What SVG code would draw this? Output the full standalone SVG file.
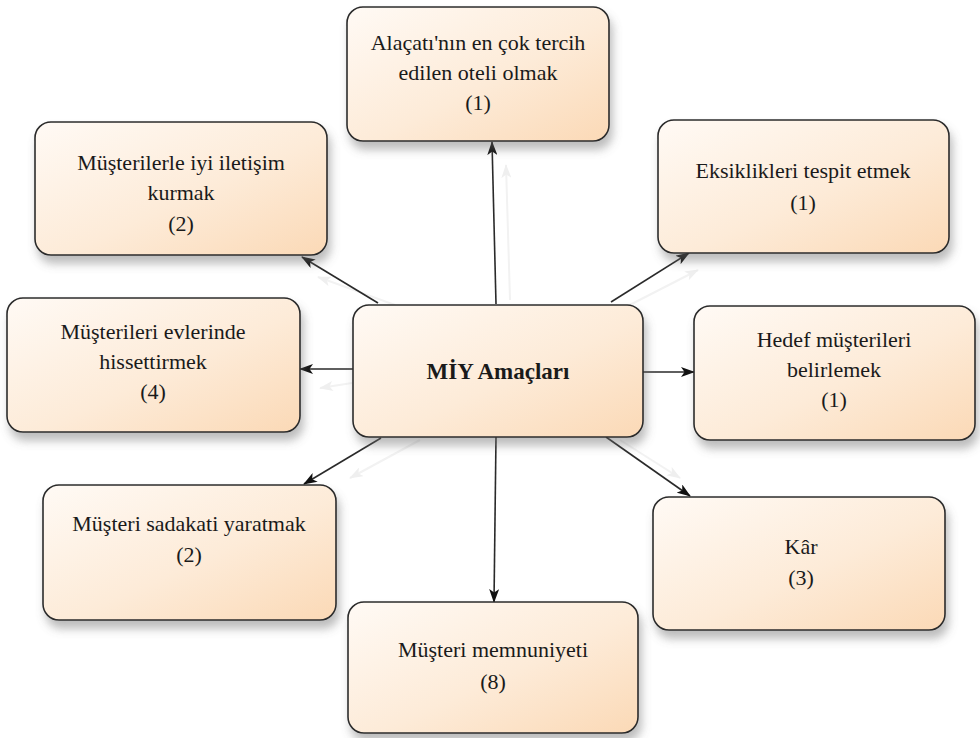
<svg xmlns="http://www.w3.org/2000/svg" width="980" height="738" viewBox="0 0 980 738">
  <defs>
    <linearGradient id="boxFill" x1="0" y1="0" x2="1" y2="1">
      <stop offset="0" stop-color="#fffaf5"/>
      <stop offset="0.55" stop-color="#fdebd8"/>
      <stop offset="1" stop-color="#fbd9b6"/>
    </linearGradient>
    <filter id="shadow" x="-10%" y="-10%" width="125%" height="135%">
      <feDropShadow dx="3" dy="8" stdDeviation="5" flood-color="#6b6b6b" flood-opacity="0.45"/>
    </filter>
    <marker id="arrow" viewBox="0 0 14 10" refX="13" refY="5" markerWidth="14" markerHeight="10" markerUnits="userSpaceOnUse" orient="auto">
      <path d="M0,0 L14,5 L0,10 L3.5,5 z" fill="#111"/>
    </marker>
    <marker id="ghostArrow" viewBox="0 0 14 10" refX="13" refY="5" markerWidth="14" markerHeight="10" markerUnits="userSpaceOnUse" orient="auto">
      <path d="M0,0 L14,5 L0,10 L3.5,5 z" fill="#efefef"/>
    </marker>
  </defs>
  <style>
    .box { fill: url(#boxFill); stroke: #2b2b2b; stroke-width: 1.6; filter: url(#shadow); }
    .label { font-family: "Liberation Serif", "Times New Roman", serif; font-size: 22px; fill: #1a1a1a; text-anchor: middle; }
    .title { font-weight: bold; font-size: 23px; }
    .link { stroke: #2a2a2a; stroke-width: 1.6; fill: none; marker-end: url(#arrow); }
    .ghost { stroke: #f2f2f2; stroke-width: 2; fill: none; marker-end: url(#ghostArrow); }
  </style>

  <rect width="980" height="738" fill="#ffffff"/>

  <!-- faint reflections of the connectors -->
  <g id="connector-reflections">
    <line class="ghost" x1="510" y1="300" x2="506" y2="165"/>
    <line class="ghost" x1="395" y1="305" x2="318" y2="277"/>
    <line class="ghost" x1="620" y1="310" x2="698" y2="270"/>
    <line class="ghost" x1="352" y1="383" x2="320" y2="388"/>
    <line class="ghost" x1="420" y1="440" x2="350" y2="478"/>
    <line class="ghost" x1="620" y1="440" x2="680" y2="478"/>
  </g>

  <!-- connectors from the central node -->
  <g id="connectors">
    <line class="link" x1="496" y1="304" x2="492" y2="142"/>
    <line class="link" x1="378" y1="303" x2="302" y2="257"/>
    <line class="link" x1="611" y1="302" x2="689" y2="253"/>
    <line class="link" x1="353" y1="369" x2="300" y2="369"/>
    <line class="link" x1="643" y1="372" x2="694" y2="372"/>
    <line class="link" x1="381" y1="438" x2="304" y2="484"/>
    <line class="link" x1="606" y1="437" x2="690" y2="496"/>
    <line class="link" x1="496" y1="437" x2="494" y2="602"/>
  </g>

  <g id="node-center">
    <rect class="box" x="353" y="305" width="290" height="132" rx="16"/>
    <text class="label title" x="498" y="379">MİY Amaçları</text>
  </g>

  <g id="node-alacati">
    <rect class="box" x="347" y="7" width="262" height="134" rx="16"/>
    <text class="label" x="478" y="50">Alaçatı'nın en çok tercih</text>
    <text class="label" x="478" y="80">edilen oteli olmak</text>
    <text class="label" x="478" y="110">(1)</text>
  </g>

  <g id="node-iletisim">
    <rect class="box" x="35" y="122" width="292" height="133" rx="16"/>
    <text class="label" x="181" y="170">Müşterilerle iyi iletişim</text>
    <text class="label" x="181" y="200">kurmak</text>
    <text class="label" x="181" y="231">(2)</text>
  </g>

  <g id="node-eksiklik">
    <rect class="box" x="658" y="120" width="291" height="133" rx="16"/>
    <text class="label" x="803" y="178">Eksiklikleri tespit etmek</text>
    <text class="label" x="803" y="210">(1)</text>
  </g>

  <g id="node-evlerinde">
    <rect class="box" x="7" y="298" width="293" height="134" rx="16"/>
    <text class="label" x="153" y="339">Müşterileri evlerinde</text>
    <text class="label" x="153" y="369">hissettirmek</text>
    <text class="label" x="153" y="399">(4)</text>
  </g>

  <g id="node-hedef">
    <rect class="box" x="694" y="306" width="281" height="134" rx="16"/>
    <text class="label" x="834" y="347">Hedef müşterileri</text>
    <text class="label" x="834" y="377">belirlemek</text>
    <text class="label" x="834" y="407">(1)</text>
  </g>

  <g id="node-sadakat">
    <rect class="box" x="43" y="485" width="293" height="135" rx="16"/>
    <text class="label" x="189" y="531">Müşteri sadakati yaratmak</text>
    <text class="label" x="189" y="562">(2)</text>
  </g>

  <g id="node-kar">
    <rect class="box" x="653" y="497" width="292" height="133" rx="16"/>
    <text class="label" x="801" y="554">Kâr</text>
    <text class="label" x="801" y="585">(3)</text>
  </g>

  <g id="node-memnuniyet">
    <rect class="box" x="348" y="602" width="290" height="131" rx="16"/>
    <text class="label" x="493" y="657">Müşteri memnuniyeti</text>
    <text class="label" x="493" y="689">(8)</text>
  </g>
</svg>
